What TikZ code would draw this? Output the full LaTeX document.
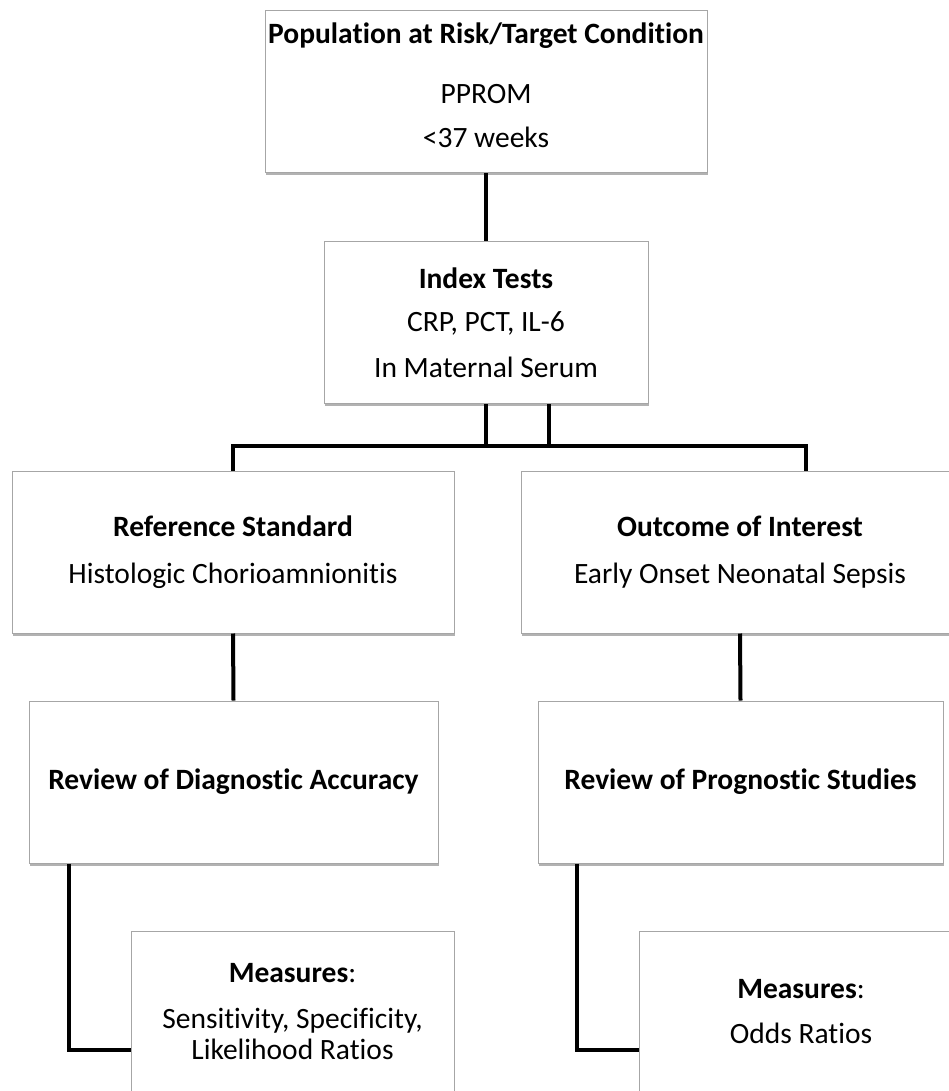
\documentclass[tikz,border=0pt]{standalone}
\usepackage{fontspec}
\setmainfont{Carlito}[Ligatures={NoCommon,NoRare,NoContextual}, RawFeature={-liga;-clig;-calt;-dlig}]
\usetikzlibrary{shadows}

\tikzset{
  every node/.style={font=\fontsize{29.5}{31}\selectfont},
  box/.style={draw=gray!70, line width=1pt, fill=white, align=center, inner sep=0pt,
    minimum height=162pt,
    drop shadow={shadow xshift=1pt, shadow yshift=-2.5pt, fill=black, opacity=0.3}},
  link/.style={line width=4pt, black},
}

\begin{document}
\begin{tikzpicture}[x=1pt, y=-1pt]
  \useasboundingbox (0,0) rectangle (949,1091);

  % boxes
  \node[box, minimum width=442pt] (pop) at (486,92) {};
  \node[align=center, inner sep=0pt] (popText) at ([yshift=7pt]pop.center)
    {\textbf{Population at Risk/Target Condition}\\[29pt] PPROM\\[13pt] <37 weeks};
  \node[box, minimum width=324pt] (index) at (486,322.5)
    {\textbf{Index Tests}\\[12pt] CRP, PCT, IL-6\\[15pt] In Maternal Serum};
  \node[box, minimum width=442pt] (ref) at (233,552)
    {\textbf{Reference Standard}\\[16pt] Histologic Chorioamnionitis};
  \node[box, minimum width=438pt] (outcome) at (740,552)
    {\textbf{Outcome of Interest}\\[16pt] Early Onset Neonatal Sepsis};
  \node[box, minimum width=409pt] (revdiag) at (233.5,782) {\textbf{Review of Diagnostic Accuracy}};
  \node[box, minimum width=405pt] (revprog) at (740.5,782) {\textbf{Review of Prognostic Studies}};
  \node[box, minimum width=323pt] (measL) at (292.5,1012)
    {\textbf{Measures}:\\[15pt] Sensitivity, Specificity,\\ Likelihood Ratios};
  \node[box, minimum width=324pt] (measR) at (801,1012)
    {\textbf{Measures}:\\[14pt] Odds Ratios};

  % connectors
  \coordinate (barR) at (806,446);
  \coordinate (idxR) at ([xshift=63pt]index.south);
  \draw[link] (pop.south) -- (index.north);
  \draw[link] (index.south) -- (index.south |- barR);
  \draw[link] (idxR) -- (idxR |- barR);
  \draw[link] (ref.north) -- (ref.north |- barR) -- (barR) -- (barR |- outcome.north);
  \draw[link] (ref.south) -- (revdiag.north);
  \draw[link] (outcome.south) -- (revprog.north);
  \draw[link] ([xshift=40pt]revdiag.south west) |- ([yshift=-38pt]measL.west);
  \draw[link] ([xshift=39pt]revprog.south west) |- ([yshift=-38pt]measR.west);
\end{tikzpicture}
\end{document}
